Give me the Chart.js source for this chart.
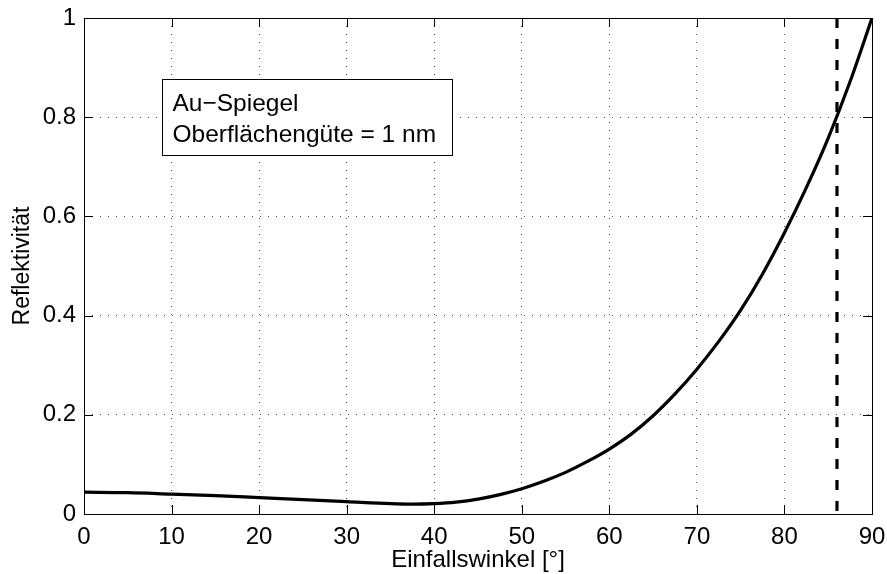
<!DOCTYPE html>
<html>
<head>
<meta charset="utf-8">
<script src="https://cdn.jsdelivr.net/npm/chart.js@4.4.0/dist/chart.umd.min.js"></script>
<style>
html,body{margin:0;padding:0;background:#fff;}
#wrap{width:887px;height:574px;}
</style>
</head>
<body>
<div id="wrap"><canvas id="refl-chart" width="887" height="574"></canvas></div>
<script>
// Reflectivity of the gold mirror vs. angle of incidence
const angles = [0, 5, 10, 15, 20, 25, 30, 35, 37.5, 40, 42.5, 45, 47.5, 50, 52.5, 55, 57.5, 60,
  62.5, 65, 67.5, 70, 72.5, 75, 77.5, 80, 82.5, 85, 87.5, 90];
const reflectivity = [0.044, 0.043, 0.040, 0.037, 0.033, 0.029, 0.025, 0.021, 0.020, 0.021, 0.024, 0.030, 0.039, 0.051, 0.066, 0.084, 0.106, 0.131,
  0.161, 0.198, 0.242, 0.292, 0.348, 0.411, 0.484, 0.567, 0.658, 0.758, 0.872, 1.0];

// vertical marker at the working angle
const markerAngle = 86;
const markerRange = [1, 0];

const xTicks = [0, 10, 20, 30, 40, 50, 60, 70, 80, 90];
const yTicks = [0, 0.2, 0.4, 0.6, 0.8, 1];

const infoLines = ['Au\u2212Spiegel', 'Oberfl\u00e4cheng\u00fcte = 1 nm'];

const FONT = 'Liberation Sans, Arial, Helvetica, sans-serif';

// inward ticks on all four sides plus the box frame
const frameTicks = {
  id: 'frameTicks',
  afterDatasetsDraw(chart) {
    const {ctx, chartArea: a, scales: {x, y}} = chart;
    const len = 9;
    ctx.save();
    ctx.strokeStyle = '#000';
    ctx.lineWidth = 1;
    ctx.beginPath();
    xTicks.forEach(v => {
      let px = Math.round(x.getPixelForValue(v)) + 0.5;
      ctx.moveTo(px, a.bottom); ctx.lineTo(px, a.bottom - len);
      ctx.moveTo(px, a.top); ctx.lineTo(px, a.top + len);
    });
    yTicks.forEach(v => {
      let py = Math.round(y.getPixelForValue(v)) + 0.5;
      ctx.moveTo(a.left, py); ctx.lineTo(a.left + len, py);
      ctx.moveTo(a.right, py); ctx.lineTo(a.right - len, py);
    });
    ctx.stroke();
    ctx.strokeRect(Math.round(a.left) + 0.5, Math.round(a.top) + 0.5,
      Math.round(a.right - a.left), Math.round(a.bottom - a.top));
    ctx.restore();
  },
  afterDraw(chart) {
    // text box with the sample description
    const {ctx, chartArea: a} = chart;
    const bx = Math.round(a.left + 78) + 0.5, by = Math.round(a.top + 61) + 0.5;
    const bw = 290, bh = 76;
    ctx.save();
    ctx.fillStyle = '#fff';
    ctx.fillRect(bx, by, bw, bh);
    ctx.strokeStyle = '#000';
    ctx.lineWidth = 1;
    ctx.strokeRect(bx, by, bw, bh);
    ctx.fillStyle = '#000';
    ctx.font = '24.5px ' + FONT;
    ctx.textBaseline = 'alphabetic';
    ctx.fillText(infoLines[0], bx + 10, by + 31);
    ctx.fillText(infoLines[1], bx + 10, by + 62);
    ctx.restore();
  }
};

const gridStyle = {color: '#555', lineWidth: 1, drawTicks: false};

new Chart(document.getElementById('refl-chart'), {
  type: 'scatter',
  data: {
    datasets: [
      {
        data: angles.map((a, i) => ({x: a, y: reflectivity[i]})),
        showLine: true,
        borderColor: '#000',
        borderWidth: 3.2,
        pointRadius: 0,
        cubicInterpolationMode: 'monotone'
      },
      {
        data: markerRange.map(v => ({x: markerAngle, y: v})),
        showLine: true,
        borderColor: '#000',
        borderWidth: 3.2,
        borderDash: [10, 11],
        pointRadius: 0
      }
    ]
  },
  options: {
    responsive: false,
    animation: false,
    layout: {padding: {top: 18, right: 15, left: 0, bottom: 0}},
    plugins: {legend: {display: false}, tooltip: {enabled: false}},
    scales: {
      x: {
        type: 'linear', min: 0, max: 90,
        afterFit: s => { s.height = 60; s.paddingLeft = 0; s.paddingRight = 0; },
        afterBuildTicks: s => { s.ticks = xTicks.map(v => ({value: v})); },
        ticks: {color: '#000', font: {family: FONT, size: 24}, padding: 9, maxRotation: 0,
          callback: v => String(v)},
        grid: gridStyle,
        border: {display: false, dash: [1, 7]},
        title: {display: true, text: 'Einfallswinkel [\u00b0]', color: '#000',
          font: {family: FONT, size: 24}, padding: {top: 0, bottom: -1}}
      },
      y: {
        type: 'linear', min: 0, max: 1,
        afterFit: s => { s.width = 84; s.paddingTop = 0; s.paddingBottom = 0; },
        afterBuildTicks: s => { s.ticks = yTicks.map(v => ({value: v})); },
        ticks: {color: '#000', font: {family: FONT, size: 24}, padding: 8,
          callback: v => String(v)},
        grid: gridStyle,
        border: {display: false, dash: [1, 7]},
        title: {display: true, text: 'Reflektivit\u00e4t', color: '#000',
          font: {family: FONT, size: 23}, padding: {top: 9, bottom: 0}}
      }
    }
  },
  plugins: [frameTicks]
});
</script>
</body>
</html>
